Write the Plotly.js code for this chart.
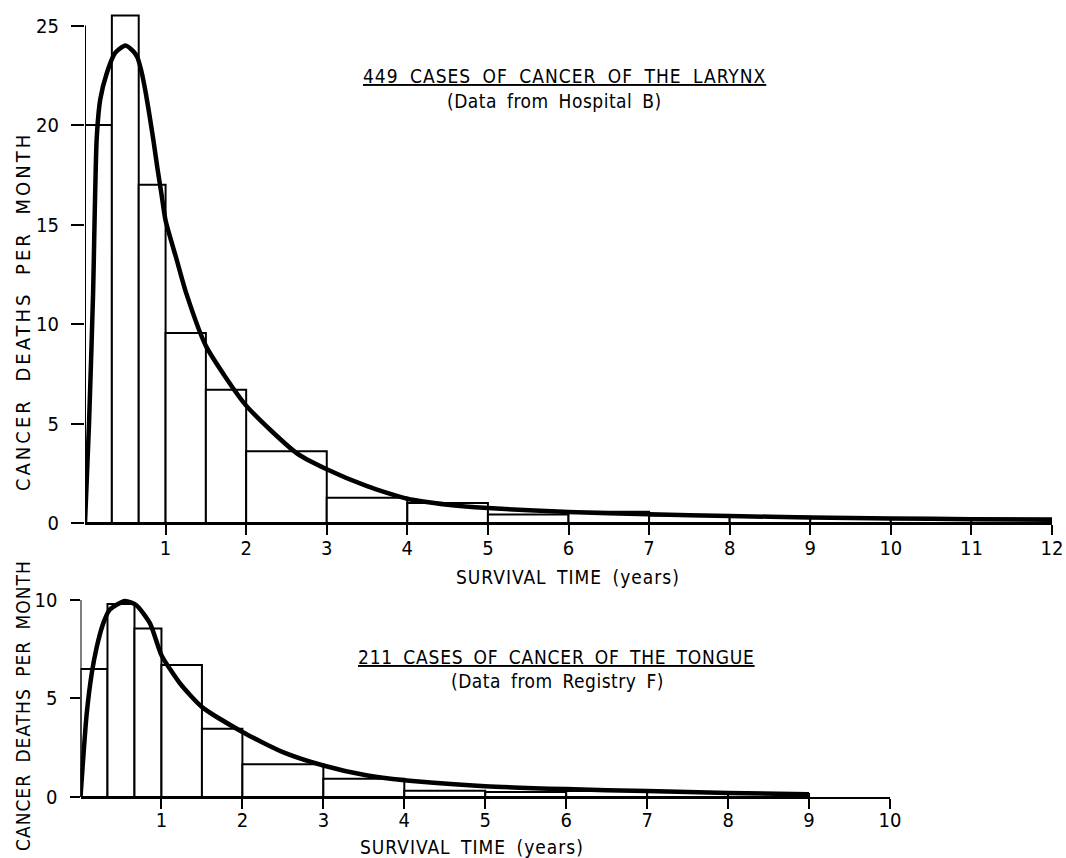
<!DOCTYPE html>
<html>
<head>
<meta charset="utf-8">
<script src="https://cdn.plot.ly/plotly-3.0.1.min.js"></script>
<style>html,body{margin:0;padding:0;background:#fff;}#chart{width:1066px;height:858px;}</style>
</head>
<body>
<div id="chart"></div>
<script>
// ---------- DATA ----------
// Larynx (Hospital B): histogram bin edges (years) and deaths per month
const larynxEdges = [0, 1/3, 2/3, 1, 1.5, 2, 3, 4, 5, 6, 7, 8, 9, 10, 11, 12];
const larynxValues = [20, 25.5, 17, 9.55, 6.7, 3.6, 1.27, 1.0, 0.43, 0.57, 0.38, 0.32, 0.25, 0.22, 0.22];
// Larynx fitted curve
const larynxCurveX = [0, 0.05, 0.1, 0.145, 0.19, 0.27, 0.37, 0.5, 0.6, 0.65, 0.7, 0.75, 0.8, 0.85, 0.9, 0.95, 1.0, 1.14, 1.26, 1.5, 2.0, 2.63, 3.0, 3.5, 4.0, 4.5, 5, 6, 7, 8, 9, 10, 11, 12];
const larynxCurveY = [0, 5, 11.5, 19.3, 21.3, 22.6, 23.6, 24.0, 23.7, 23.4, 22.7, 21.7, 20.5, 19.2, 17.8, 16.5, 15.2, 13.2, 11.5, 8.9, 5.9, 3.5, 2.7, 1.85, 1.22, 0.92, 0.75, 0.55, 0.44, 0.35, 0.28, 0.23, 0.19, 0.16];

// Tongue (Registry F)
const tongueEdges = [0, 1/3, 2/3, 1, 1.5, 2, 3, 4, 5, 6, 7, 8, 9];
const tongueValues = [6.5, 9.8, 8.55, 6.7, 3.47, 1.66, 0.93, 0.32, 0.25, 0.3, 0.25, 0.15];
const tongueCurveX = [0, 0.076, 0.14, 0.2, 0.28, 0.36, 0.55, 0.69, 0.86, 1.0, 1.23, 1.5, 2.0, 2.5, 3.0, 3.53, 4.0, 5, 6, 7, 8, 9];
const tongueCurveY = [0, 4.2, 6.3, 7.6, 8.8, 9.5, 9.95, 9.73, 8.8, 7.2, 5.76, 4.57, 3.3, 2.28, 1.6, 1.1, 0.85, 0.55, 0.4, 0.3, 0.2, 0.14];

// Tick labels
const larynxXTicks = [1,2,3,4,5,6,7,8,9,10,11,12];
const larynxYTicks = [0,5,10,15,20,25];
const tongueXTicks = [1,2,3,4,5,6,7,8,9,10];
const tongueYTicks = [0,5,10];

// Texts
const larynxTitle = "449 CASES OF CANCER OF THE LARYNX";
const larynxSub = "(Data from Hospital B)";
const tongueTitle = "211 CASES OF CANCER OF THE TONGUE";
const tongueSub = "(Data from Registry F)";
const xTitle = "SURVIVAL TIME (years)";
const yTitle = "CANCER DEATHS PER MONTH";

// ---------- BUILD ----------
const FONT = "'DejaVu Sans Condensed', 'Liberation Sans Narrow', 'Noto Sans', sans-serif";
function centers(e){ const c=[]; for(let i=0;i<e.length-1;i++) c.push((e[i]+e[i+1])/2); return c; }
function widths(e){ const w=[]; for(let i=0;i<e.length-1;i++) w.push(e[i+1]-e[i]); return w; }

const barStyle = {color:'#ffffff', line:{color:'#000', width:2}};
const traces = [
  {type:'bar', x:centers(larynxEdges), y:larynxValues, width:widths(larynxEdges), marker:barStyle, xaxis:'x', yaxis:'y', hoverinfo:'skip'},
  {type:'scatter', mode:'lines', x:larynxCurveX, y:larynxCurveY, line:{color:'#000', width:4.5, shape:'spline', smoothing:0.6}, xaxis:'x', yaxis:'y', hoverinfo:'skip'},
  {type:'bar', x:centers(tongueEdges), y:tongueValues, width:widths(tongueEdges), marker:barStyle, xaxis:'x2', yaxis:'y2', hoverinfo:'skip'},
  {type:'scatter', mode:'lines', x:tongueCurveX, y:tongueCurveY, line:{color:'#000', width:4.5, shape:'spline', smoothing:0.6}, xaxis:'x2', yaxis:'y2', hoverinfo:'skip'}
];

const W = 1066, H = 858;
const px = v => v / W;
const py = v => (H - v) / H;

const axBase = {showgrid:false, zeroline:false, showline:false, linecolor:'#000', linewidth:2,
  ticks:'outside', tickwidth:2, tickcolor:'#000', tickfont:{family:FONT, size:20, color:'#000'}, fixedrange:true};

function ann(x, y, text, size, ls, ws, extra){
  return Object.assign({xref:'paper', yref:'paper', x:px(x), y:py(y),
    text:'<span style="letter-spacing:'+ls+'px;word-spacing:'+ws+'px">'+text+'</span>',
    showarrow:false, font:{family:FONT, size:size, color:'#000'}, xanchor:'center', yanchor:'middle'}, extra||{});
}

const layout = {
  width:W, height:H, margin:{l:0, r:0, t:0, b:0},
  paper_bgcolor:'#fff', plot_bgcolor:'rgba(0,0,0,0)',
  showlegend:false, barmode:'overlay',
  font:{family:FONT, color:'#000'},
  xaxis: Object.assign({}, axBase, {domain:[px(85), px(1052)], range:[0,12], tickvals:larynxXTicks, ticklen:10, ticklabelstandoff:-4, showline:true, anchor:'y'}),
  yaxis: Object.assign({}, axBase, {domain:[py(523), py(13.6)], range:[0,25.6], tickvals:larynxYTicks, ticklen:13, ticklabelstandoff:8, anchor:'x'}),
  xaxis2: Object.assign({}, axBase, {domain:[px(80.5), px(890)], range:[0,10], tickvals:tongueXTicks, ticklen:10, ticklabelstandoff:-6, showline:true, anchor:'y2'}),
  yaxis2: Object.assign({}, axBase, {domain:[py(797), py(597)], range:[0,10.15], tickvals:tongueYTicks, ticklen:10, ticklabelstandoff:8, anchor:'x2'}),
  shapes: [
    {type:'line', xref:'x', yref:'y', x0:0, x1:0, y0:0, y1:larynxYTicks[larynxYTicks.length-1], line:{color:'#000', width:2}},
    {type:'line', xref:'x2', yref:'y2', x0:0, x1:0, y0:0, y1:tongueYTicks[tongueYTicks.length-1], line:{color:'#000', width:2}}
  ],
  annotations: [
    ann(564, 76, '<u>'+larynxTitle+'</u>', 19, 1, 5),
    ann(554, 101, larynxSub, 19, 0.5, 4),
    ann(556, 657, '<u>'+tongueTitle+'</u>', 19, 0.8, 4),
    ann(557, 681, tongueSub, 19, 0.5, 4),
    ann(568, 577, xTitle, 19, 1, 4),
    ann(472, 847, xTitle, 19, 1, 4),
    ann(23, 312, yTitle, 20, 3, 8, {textangle:-90}),
    ann(23, 706, yTitle, 19, 1, 5, {textangle:-90})
  ]
};

Plotly.newPlot('chart', traces, layout, {staticPlot:true, displayModeBar:false});
</script>
</body>
</html>
